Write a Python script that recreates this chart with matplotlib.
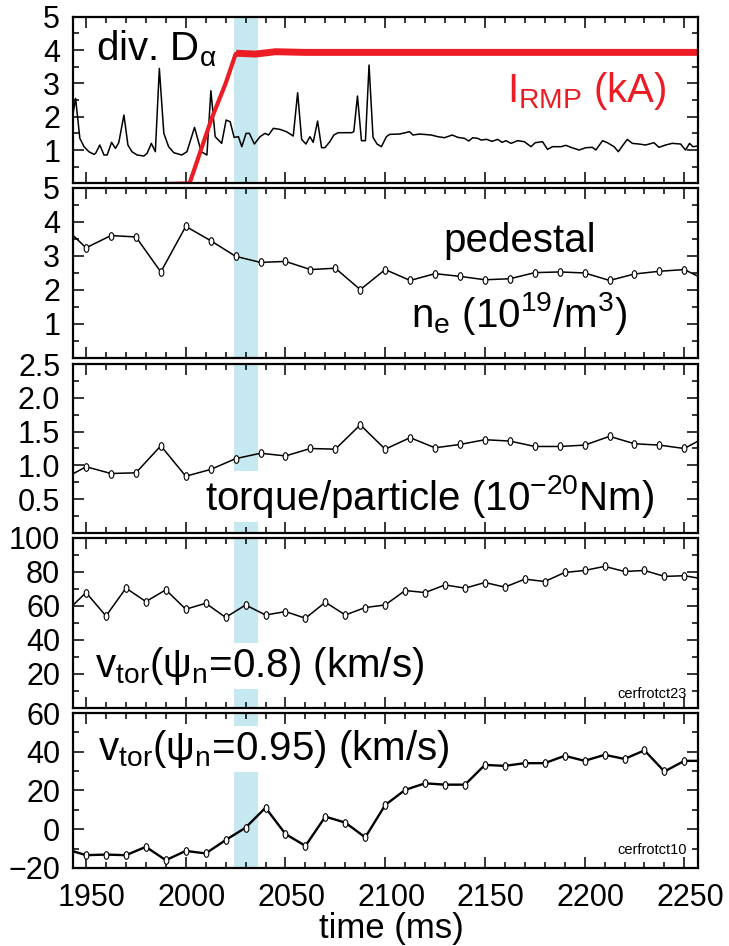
import numpy as np
import matplotlib
matplotlib.use("Agg")
import matplotlib.pyplot as plt
from matplotlib.path import Path
from matplotlib.ticker import MultipleLocator
from matplotlib.transforms import ScaledTranslation

plt.rcParams["font.family"] = ["Liberation Sans", "DejaVu Sans"]
plt.rcParams["mathtext.fontset"] = "custom"
plt.rcParams["mathtext.rm"] = "Liberation Sans"
plt.rcParams["mathtext.it"] = "Liberation Sans:italic"
plt.rcParams["mathtext.bf"] = "Liberation Sans:bold"
plt.rcParams["mathtext.sf"] = "Liberation Sans"
plt.rcParams["mathtext.default"] = "rm"

# ---- data ----
# divertor D-alpha trace (a.u.)
da_t = [1943.5, 1944.75, 1946.9, 1949.0, 1951.4, 1954.0, 1954.8, 1956.9, 1959.0,
        1960.6, 1962.8, 1964.75, 1966.4, 1969.0, 1971.0, 1973.0, 1975.6, 1979.0,
        1980.6, 1982.75, 1984.75, 1986.75, 1989.0, 1991.4, 1994.0, 1998.0, 2000.6,
        2004.4, 2007.75, 2010.6, 2012.6, 2014.75, 2018.0, 2020.25, 2022.25,
        2024.25, 2026.4, 2028.1, 2030.25, 2031.9, 2034.4, 2037.25, 2039.75,
        2041.5, 2043.9, 2047.25, 2050.5, 2053.9, 2056.1, 2058.1, 2060.25, 2062.25,
        2063.9, 2066.1, 2068.1, 2069.75, 2072.25, 2074.25, 2076.4, 2083.1, 2084.25,
        2086.1, 2088.1, 2090.1, 2091.9, 2093.9, 2095.9, 2098.1, 2100.6, 2102.25,
        2107.25, 2112.25, 2113.9, 2117.25, 2123.1, 2126.4, 2129.75, 2133.6,
        2136.4, 2139.75, 2141.9, 2143.9, 2146.4, 2148.1, 2150.9, 2153.6, 2156.4,
        2158.6, 2160.6, 2163.1, 2166.4, 2169.75, 2173.1, 2175.25, 2178.9, 2181.4,
        2183.9, 2188.1, 2190.6, 2193.1, 2197.25, 2200.6, 2203.9, 2205.6, 2209.0,
        2211.4, 2214.75, 2216.9, 2218.9, 2221.4, 2223.9, 2227.25, 2230.6, 2234.75,
        2237.25, 2240.6, 2243.9, 2248.1, 2250.6, 2252.6, 2254.25, 2256.75]
da_v = [2.1, 2.55, 1.35, 1.1, 0.95, 0.87, 0.9, 1.15, 0.85,
        0.85, 1.23, 1.05, 1.22, 2.05, 1.15, 0.95, 0.85, 0.82,
        0.9, 1.2, 0.95, 3.45, 1.5, 1.1, 0.92, 0.85, 0.95,
        1.68, 0.95, 0.85, 2.78, 1.4, 1.2, 1.9, 1.85,
        1.38, 1.4, 1.1, 1.5, 1.5, 1.18, 1.4, 1.5,
        1.45, 1.65, 1.62, 1.55, 1.42, 2.72, 1.32, 1.18, 1.4,
        1.23, 1.87, 1.07, 1.07, 1.25, 1.45, 1.52, 1.52, 1.55,
        2.62, 1.28, 1.28, 3.55, 1.38, 1.18, 1.1, 1.4, 1.47,
        1.48, 1.55, 1.45, 1.48, 1.45, 1.4, 1.37, 1.45,
        1.38, 1.35, 1.27, 1.37, 1.35, 1.3, 1.32, 1.26, 1.32,
        1.23, 1.28, 1.2, 1.28, 1.25, 1.1, 1.22, 1.25, 1.02,
        1.1, 1.1, 1.14, 1.08, 1.0, 1.07, 1.08, 1.0, 1.28,
        1.22, 1.1, 0.95, 1.12, 1.32, 1.2, 1.18, 1.15, 1.22,
        1.08, 1.15, 1.2, 1.18, 1.0, 1.2, 1.1, 1.12]

# RMP coil current (kA)
rmp_t = [1943.0, 2001.9, 2013.0, 2020.0, 2025.0, 2027.0, 2035.0, 2045.0, 2060.0,
         2150.0, 2257.0]
rmp_v = [-0.1, 0.0, 1.95, 3.0, 3.88, 3.9, 3.88, 3.95, 3.93, 3.93, 3.93]

# pedestal density (1e19 m^-3), 12.5 ms sampling
ne_t = [1937.5, 1950.0, 1962.5, 1975.0, 1987.5, 2000.0, 2012.5, 2025.0, 2037.5,
        2050.0, 2062.5, 2075.0, 2087.5, 2100.0, 2112.5, 2125.0, 2137.5, 2150.0,
        2162.5, 2175.0, 2187.5, 2200.0, 2212.5, 2225.0, 2237.5, 2250.0, 2262.5]
ne_v = [3.94, 3.24, 3.60, 3.56, 2.53, 3.87, 3.45, 2.99, 2.81,
        2.84, 2.60, 2.64, 2.01, 2.60, 2.28, 2.48, 2.40, 2.30,
        2.33, 2.51, 2.53, 2.50, 2.28, 2.47, 2.55, 2.60, 2.24]

# torque per particle (1e-20 Nm), same sampling
tq_t = ne_t
tq_v = [0.78, 0.98, 0.88, 0.89, 1.29, 0.84, 0.94, 1.10, 1.18,
        1.14, 1.25, 1.24, 1.60, 1.24, 1.41, 1.26, 1.31, 1.38,
        1.36, 1.28, 1.28, 1.30, 1.43, 1.32, 1.30, 1.25, 1.45]

# toroidal rotation (km/s), 10 ms sampling
vt_t = [1940, 1950, 1960, 1970, 1980, 1990, 2000, 2010, 2020, 2030, 2040, 2050,
        2060, 2070, 2080, 2090, 2100, 2110, 2120, 2130, 2140, 2150, 2160, 2170,
        2180, 2190, 2200, 2210, 2220, 2230, 2240, 2250, 2260]
v08 = [56.6, 67.9, 54.1, 70.5, 62.6, 69.5, 58.1, 61.6, 53.3, 60.6, 54.7, 56.7,
       52.8, 62.2, 54.7, 59.1, 60.6, 69.1, 67.9, 72.4, 70.5, 73.8, 71.1, 75.8,
       74.4, 79.7, 80.9, 83.3, 80.3, 80.9, 77.4, 77.8, 75.8]
v095 = [-10.3, -13.4, -13.1, -13.4, -9.1, -16.0, -11.2, -12.5, -5.6, 0.8, 11.1, -2.5,
        -8.6, 6.5, 3.4, -4.2, 12.5, 20.3, 23.7, 23.0, 23.0, 33.2, 32.7, 34.1,
        34.1, 37.9, 35.3, 38.4, 36.3, 40.7, 29.8, 35.3, 35.3]

band = (2024.0, 2036.0)
xlim = (1943.3, 2257.0)

RED = "#ec1c24"
BAND = "#c6e8f1"

theta = np.linspace(0, 2 * np.pi, 41)
ellipse = Path(np.column_stack([0.62 * np.cos(theta), np.sin(theta)]), closed=True)
mk = dict(marker=ellipse, ms=5.5, mfc="white", mec="black", mew=0.8)

fig = plt.figure(figsize=(7.29, 9.46), dpi=100)
L, W = 0.0997, 0.8582
rects = [(0.8062, 0.1761), (0.6216, 0.1797), (0.4366, 0.1786),
         (0.2516, 0.1797), (0.0825, 0.1638)]
axes = [fig.add_axes([L, b, W, h]) for b, h in rects]

for ax in axes:
    ax.set_xlim(*xlim)
    ax.axvspan(*band, color=BAND, lw=0, zorder=0)
    ax.xaxis.set_major_locator(MultipleLocator(50))
    ax.xaxis.set_minor_locator(MultipleLocator(10))
    ax.tick_params(which="both", direction="in", top=True, right=True,
                   width=1.1, labelsize=22, pad=9)
    ax.tick_params(axis="x", pad=11)
    ax.tick_params(which="major", length=8)
    ax.tick_params(which="minor", length=4)
    for s in ax.spines.values():
        s.set_linewidth(1.6)
    if ax is not axes[-1]:
        ax.tick_params(labelbottom=False)

txt = dict(fontsize=29, va="baseline")
box = dict(facecolor="white", edgecolor="none", pad=1.5)

# panel 1: D-alpha and I_RMP
ax = axes[0]
ax.plot(da_t, da_v, color="black", lw=1.1)
ax.plot(rmp_t, rmp_v, color=RED, lw=3.0, solid_capstyle="butt")
rt, rv = np.array(rmp_t), np.array(rmp_v)
ax.plot(rt[rt >= 2027], rv[rt >= 2027], color=RED, lw=5.0)
ax.set_ylim(0, 5)
ax.set_yticks([1, 2, 3, 4, 5])
ax.yaxis.set_minor_locator(MultipleLocator(0.5))
ax.text(0.037, 0.74, r"div. D$_{\alpha}$", transform=ax.transAxes, **txt)
ax.text(0.949, 0.49, r"I$_{\rm RMP}$ (kA)", transform=ax.transAxes, ha="right",
        color=RED, **txt)

# panel 2: pedestal density
ax = axes[1]
ax.plot(ne_t, ne_v, color="black", lw=1.1, **mk)
ax.set_ylim(0, 5)
ax.set_yticks([1, 2, 3, 4, 5])
ax.yaxis.set_minor_locator(MultipleLocator(0.5))
ax.text(0.714, 0.625, "pedestal", transform=ax.transAxes, ha="center", **txt)
ax.text(0.714, 0.184, r"n$_{\rm e}$ (10$^{19}$/m$^{3}$)", transform=ax.transAxes,
        ha="center", **txt)

# panel 3: torque per particle
ax = axes[2]
ax.plot(tq_t, tq_v, color="black", lw=1.1, **mk)
ax.set_ylim(0, 2.5)
ax.set_yticks([0.5, 1.0, 1.5, 2.0, 2.5])
ax.set_yticklabels(["0.5", "1.0", "1.5", "2.0", "2.5"])
ax.yaxis.set_minor_locator(MultipleLocator(0.25))
ax.text(0.212, 0.136, r"torque/particle (10$^{-20}$Nm)", transform=ax.transAxes,
        bbox=box, zorder=1, **txt)

# panel 4: v_tor at psi_n = 0.8
ax = axes[3]
ax.plot(vt_t, v08, color="black", lw=1.1, **mk)
ax.set_ylim(0, 100)
ax.set_yticks([20, 40, 60, 80, 100])
ax.yaxis.set_minor_locator(MultipleLocator(10))
ax.text(0.036, 0.184, r"v$_{\rm tor}$($\psi_{\rm n}$=0.8) (km/s)",
        transform=ax.transAxes, bbox=box, zorder=1, **txt)
ax.text(0.981, 0.06, "cerfrotct23", transform=ax.transAxes, ha="right",
        va="baseline", fontsize=10.5)

# panel 5: v_tor at psi_n = 0.95
ax = axes[4]
ax.plot(vt_t, v095, color="black", lw=1.7, **mk)
ax.set_ylim(-20, 60)
ax.set_yticks([-20, 0, 20, 40, 60])
ax.yaxis.set_minor_locator(MultipleLocator(10))
ax.text(0.04, 0.697, r"v$_{\rm tor}$($\psi_{\rm n}$=0.95) (km/s)",
        transform=ax.transAxes, bbox=box, zorder=1, **txt)
ax.text(0.981, 0.09, "cerfrotct10", transform=ax.transAxes, ha="right",
        va="baseline", fontsize=10.5)

# x tick labels sit a few pixels right of their ticks in the original
shift = ScaledTranslation(6 / 100, 0, fig.dpi_scale_trans)
for lab in ax.get_xticklabels():
    lab.set_transform(lab.get_transform() + shift)

fig.text(0.537, 1 - 938 / 946, "time (ms)", fontsize=25, ha="center",
         va="baseline")

fig.savefig("out.png", dpi=100)
